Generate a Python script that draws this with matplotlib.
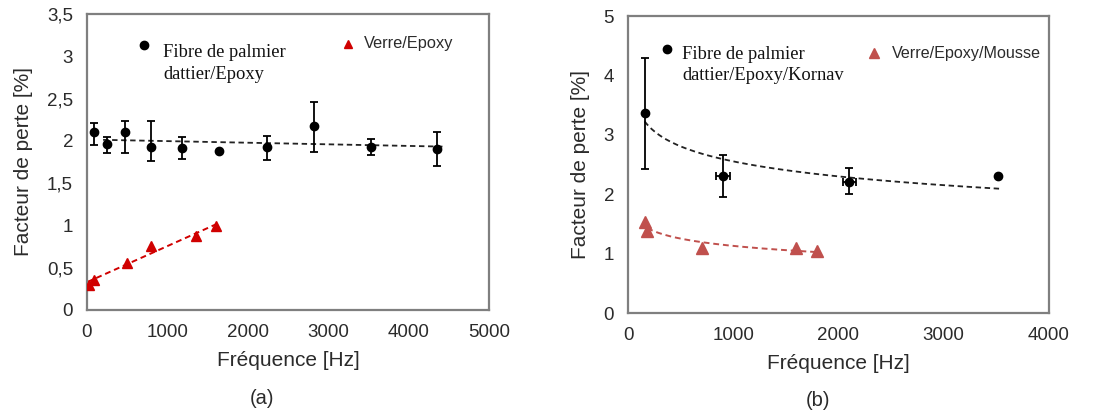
import numpy as np
import matplotlib.pyplot as plt
from matplotlib.ticker import FuncFormatter

# (a) Fibre de palmier dattier/Epoxy
freq_a_fibre = [83, 245, 477, 796, 1177, 1646, 2239, 2823, 3528, 4353]
loss_a_fibre = [2.11, 1.96, 2.10, 1.93, 1.92, 1.88, 1.93, 2.17, 1.93, 1.90]
err_lo_a_fibre = [0.16, 0.10, 0.24, 0.17, 0.13, 0.0, 0.16, 0.30, 0.10, 0.20]
err_hi_a_fibre = [0.10, 0.09, 0.14, 0.30, 0.12, 0.0, 0.13, 0.29, 0.09, 0.20]

# (a) Verre/Epoxy
freq_a_verre = [29, 91, 493, 796, 1352, 1600]
loss_a_verre = [0.30, 0.36, 0.55, 0.76, 0.875, 0.99]

# (b) Fibre de palmier dattier/Epoxy/Kornav
freq_b_fibre = [158, 903, 2103, 3519]
loss_b_fibre = [3.36, 2.31, 2.21, 2.31]
err_lo_b_fibre = [0.94, 0.35, 0.21, 0.0]
err_hi_b_fibre = [0.93, 0.35, 0.23, 0.0]
xerr_b_fibre = [0, 66, 63, 0]

# (b) Verre/Epoxy/Mousse
freq_b_verre = [158, 184, 703, 1599, 1799]
loss_b_verre = [1.54, 1.38, 1.09, 1.09, 1.05]

RED_A = '#D00000'
RED_B = '#C0504D'
TXT = '#2b2b2b'

plt.rcParams['font.family'] = ['Liberation Sans', 'DejaVu Sans']

fig = plt.figure(figsize=(11.01, 4.15), dpi=100)
W, H = 1101, 415
ax_a = fig.add_axes([87 / W, 1 - 310 / H, (489 - 87) / W, (310 - 14) / H])
ax_b = fig.add_axes([628 / W, 1 - 313 / H, (1049 - 628) / W, (313 - 16) / H])

comma = FuncFormatter(lambda v, p: ('%g' % v).replace('.', ','))


def style(ax, xmax, ymax, ystep):
    ax.set_xlim(0, xmax)
    ax.set_ylim(0, ymax)
    ax.set_xticks(np.arange(0, xmax + 1, 1000))
    ax.set_yticks(np.arange(0, ymax + 0.01, ystep))
    ax.yaxis.set_major_formatter(comma)
    ax.tick_params(length=0, labelsize=13.5, colors=TXT, pad=10)
    for s in ax.spines.values():
        s.set_color('#7f7f7f')
        s.set_linewidth(1.6)
    ax.set_xlabel('Fréquence [Hz]', fontsize=15, color=TXT, labelpad=7)
    ax.set_ylabel('Facteur de perte [%]', fontsize=15, color=TXT, labelpad=10)


# panel (a)
xa = np.array(freq_a_fibre)
ya = np.array(loss_a_fibre)
ax_a.errorbar(xa, ya, yerr=[err_lo_a_fibre, err_hi_a_fibre], fmt='o', color='black',
              ms=6, capsize=3, elinewidth=1.3, capthick=1.3, zorder=3)
c = np.polyfit(xa, ya, 1)
xs = np.linspace(200, 4430, 100)
ax_a.plot(xs, np.polyval(c, xs), ls=(0, (3, 2)), color='#222222', lw=1.3)

xv = np.array(freq_a_verre)
yv = np.array(loss_a_verre)
ax_a.plot(xv, yv, '^', color=RED_A, ms=7, zorder=3)
c = np.polyfit(xv, yv, 1)
xs = np.linspace(5, 1640, 100)
ax_a.plot(xs, np.polyval(c, xs), ls=(0, (3, 2)), color=RED_A, lw=1.4)

style(ax_a, 5000, 3.5, 0.5)

ax_a.plot([0.143], [0.895], 'o', color='black', ms=6, transform=ax_a.transAxes)
ax_a.text(0.189, 0.897, 'Fibre de palmier\ndattier/Epoxy', transform=ax_a.transAxes,
          family='Liberation Serif', fontsize=13.3, va='top', ha='left',
          linespacing=1.35, color='#111111')
ax_a.plot([0.65], [0.90], '^', color=RED_A, ms=6, transform=ax_a.transAxes)
ax_a.text(0.69, 0.90, 'Verre/Epoxy', transform=ax_a.transAxes, fontsize=11.8,
          va='center', ha='left', color=TXT)

# panel (b)
xb = np.array(freq_b_fibre)
yb = np.array(loss_b_fibre)
ax_b.errorbar(xb, yb, yerr=[err_lo_b_fibre, err_hi_b_fibre], xerr=xerr_b_fibre, fmt='o',
              color='black', ms=6, capsize=3, elinewidth=1.3, capthick=1.3, zorder=3)
c = np.polyfit(np.log(xb), yb, 1)
xs = np.linspace(158, 3535, 200)
ax_b.plot(xs, np.polyval(c, np.log(xs)), ls=(0, (3, 2)), color='#222222', lw=1.3)

xv = np.array(freq_b_verre)
yv = np.array(loss_b_verre)
ax_b.plot(xv, yv, '^', color=RED_B, ms=8, zorder=3)
c = np.polyfit(np.log(xv), yv, 1)
xs = np.linspace(184, 1810, 200)
ax_b.plot(xs, np.polyval(c, np.log(xs)), ls=(0, (3, 2)), color=RED_B, lw=1.4)

style(ax_b, 4000, 5, 1)

ax_b.plot([0.093], [0.89], 'o', color='black', ms=6, transform=ax_b.transAxes)
ax_b.text(0.128, 0.90, 'Fibre de palmier\ndattier/Epoxy/Kornav', transform=ax_b.transAxes,
          family='Liberation Serif', fontsize=13.3, va='top', ha='left',
          linespacing=1.35, color='#111111')
ax_b.plot([0.585], [0.875], '^', color=RED_B, ms=7, transform=ax_b.transAxes)
ax_b.text(0.627, 0.875, 'Verre/Epoxy/Mousse', transform=ax_b.transAxes, fontsize=11.6,
          va='center', ha='left', color=TXT)

fig.text(262 / W, 1 - 398 / H, '(a)', fontsize=14.5, ha='center', va='center', color=TXT)
fig.text(818 / W, 1 - 400 / H, '(b)', fontsize=14.5, ha='center', va='center', color=TXT)

fig.savefig('out.png', dpi=100)
